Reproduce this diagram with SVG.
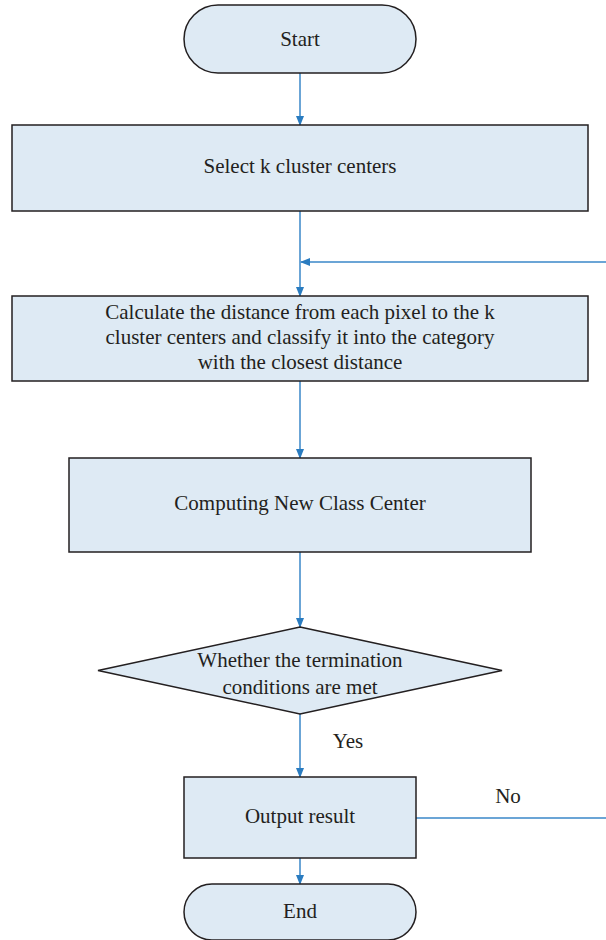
<svg xmlns="http://www.w3.org/2000/svg" width="606" height="940" viewBox="0 0 606 940">
<style>
.n{fill:#deeaf4;stroke:#231f20;stroke-width:1.5}
.t{font-family:"Liberation Serif",serif;font-size:21px;fill:#231f20;text-anchor:middle}
.c{stroke:#3a87c8;stroke-width:1.5;fill:none}
</style>
<defs>
<marker id="ah" markerWidth="10" markerHeight="8" refX="9" refY="4" orient="auto" markerUnits="userSpaceOnUse">
<path d="M0,0 L10,4 L0,8 Z" fill="#2a7cc0"/>
</marker>
</defs>
<g id="connectors">
<line class="c" x1="300" y1="73" x2="300" y2="125" marker-end="url(#ah)"/>
<line class="c" x1="300" y1="211" x2="300" y2="296" marker-end="url(#ah)"/>
<line class="c" x1="606" y1="262" x2="301" y2="262" marker-end="url(#ah)"/>
<line class="c" x1="300" y1="381" x2="300" y2="458" marker-end="url(#ah)"/>
<line class="c" x1="300" y1="552" x2="300" y2="627" marker-end="url(#ah)"/>
<line class="c" x1="300" y1="714" x2="300" y2="777" marker-end="url(#ah)"/>
<line class="c" x1="300" y1="858" x2="300" y2="884" marker-end="url(#ah)"/>
<line class="c" x1="416" y1="818" x2="606" y2="818"/>
<text class="t" x="348" y="748">Yes</text>
<text class="t" x="508" y="803">No</text>
</g>
<g id="start">
<rect class="n" x="184" y="5" width="232" height="68" rx="34" ry="34"/>
<text class="t" x="300" y="46">Start</text>
</g>
<g id="select">
<rect class="n" x="12" y="125" width="576" height="86"/>
<text class="t" x="300" y="173">Select k cluster centers</text>
</g>
<g id="calc">
<rect class="n" x="12" y="296" width="576" height="85"/>
<text class="t" x="300" y="319">Calculate the distance from each pixel to the k</text>
<text class="t" x="300" y="344">cluster centers and classify it into the category</text>
<text class="t" x="300" y="369">with the closest distance</text>
</g>
<g id="compute">
<rect class="n" x="69" y="458" width="462" height="94"/>
<text class="t" x="300" y="510">Computing New Class Center</text>
</g>
<g id="decision">
<polygon class="n" points="300,627 502,670.5 300,714 98,670.5"/>
<text class="t" x="300" y="667">Whether the termination</text>
<text class="t" x="300" y="694">conditions are met</text>
</g>
<g id="output">
<rect class="n" x="184" y="777" width="232" height="81"/>
<text class="t" x="300" y="823">Output result</text>
</g>
<g id="end">
<rect class="n" x="184" y="884" width="232" height="56" rx="28" ry="28"/>
<text class="t" x="300" y="918">End</text>
</g>
</svg>
